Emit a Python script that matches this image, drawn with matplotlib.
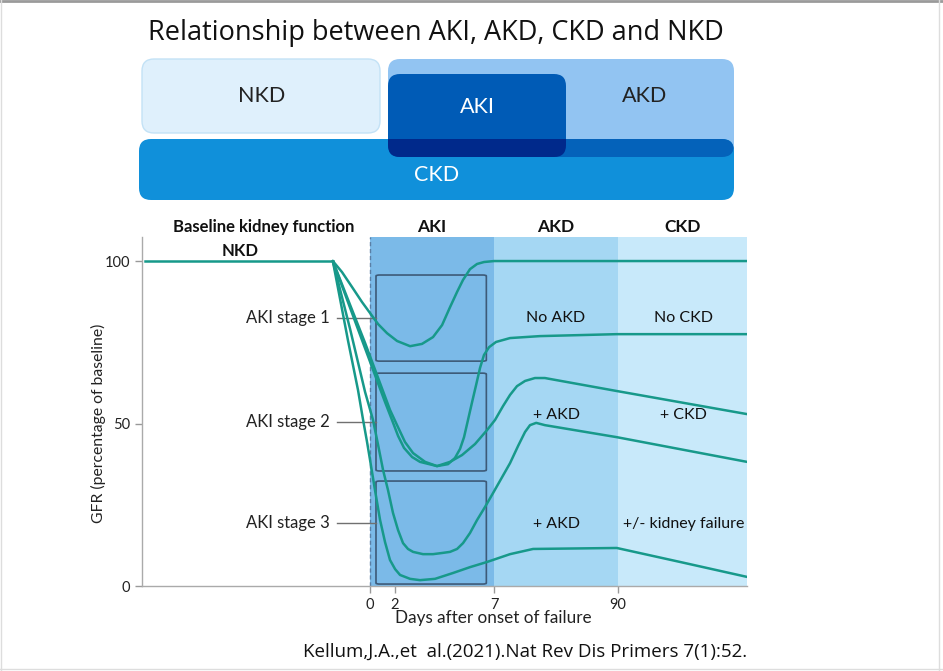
import matplotlib
matplotlib.use("Agg")
import matplotlib.pyplot as plt
from matplotlib.patches import FancyBboxPatch
import numpy as np

plt.rcParams['font.family'] = ['Lato', 'DejaVu Sans']

# timeline: 0 = onset, 10 = day 7, 20 = day 90 (axis is not linear in days)
tick_pos = [0, 2, 10, 20]
tick_lab = ["0", "2", "7", "90"]
phases = ["AKI", "AKD", "CKD"]
phase_span = [(0, 10), (10, 20), (20, 30.4)]
phase_col = ["#7bbae8", "#a5d7f3", "#c8e9fa"]

# GFR (% of baseline)
base_x = [-18.15, -3.0]
base_y = [100, 100]

s1_x = [-3.0, -2.26, -1.45, -0.65, 0.0, 0.65, 1.37, 2.18, 3.23, 4.19, 5.08, 5.81, 6.45,
        7.02, 7.5, 8.06, 8.63, 9.19, 10.0, 30.4]
s1_y = [100, 96.6, 92.0, 87.4, 84.0, 80.6, 77.8, 75.4, 73.8, 74.5, 76.6, 80.3, 85.8,
        90.5, 94.2, 97.5, 99.1, 99.7, 100, 100]

s2a_x = [-3.0, -0.65, 1.21, 1.77, 2.26, 2.74, 3.39, 4.03, 5.4, 6.29, 6.85, 7.26, 7.58, 7.9,
         8.23, 8.55, 8.87, 9.19, 9.6, 10.16, 11.29, 13.7, 19.9, 30.4]
s2a_y = [100, 75.7, 56.6, 51.1, 46.2, 42.5, 39.7, 38.2, 36.9, 37.5, 39.4, 42.2, 45.8, 51.1,
         56.6, 61.8, 67.1, 71.1, 73.5, 75.1, 76.3, 76.9, 77.5, 77.5]

s2b_x = [-3.0, -0.4, 1.61, 2.18, 2.82, 3.47, 4.44, 5.4, 6.45, 7.42, 8.47, 9.44, 10.08, 10.73,
         11.29, 11.85, 12.5, 13.3, 14.1, 19.9, 30.4]
s2b_y = [100, 74.8, 54.2, 49.5, 44.3, 40.9, 38.2, 36.9, 38.2, 40.3, 43.7, 48.0, 51.1, 55.4,
         58.8, 61.5, 63.1, 64.0, 64.0, 60.0, 52.9]

s3a_x = [-3.0, -1.61, -0.4, 0.24, 0.65, 1.05, 1.45, 1.85, 2.26, 2.66, 3.06, 3.47, 4.27, 5.08,
         5.89, 6.45, 7.02, 7.5, 8.06, 8.63, 9.27, 9.92, 10.65, 11.29, 11.94, 12.5, 12.9, 13.4,
         14.1, 19.9, 30.4]
s3a_y = [100, 79.1, 59.7, 51.1, 43.4, 35.7, 29.5, 22.5, 17.2, 13.2, 11.4, 10.5, 9.8, 9.8,
         10.2, 10.5, 11.4, 13.2, 16.3, 20.3, 24.3, 28.6, 33.5, 37.8, 43.1, 47.4, 49.5, 50.2,
         49.5, 45.8, 38.2]

s3b_x = [-3.0, -1.77, -0.97, -0.56, -0.24, 0.0, 0.4, 0.81, 1.21, 1.61, 2.02, 2.42, 3.23, 4.03,
         5.24, 6.69, 8.06, 9.44, 11.29, 13.15, 19.9, 25.0, 30.4]
s3b_y = [100, 75.4, 60.3, 51.1, 44.3, 38.8, 29.5, 20.3, 13.5, 8.0, 5.2, 3.4, 2.2, 1.8,
         2.2, 4.0, 5.8, 7.4, 9.8, 11.4, 11.7, 7.4, 2.8]

stage_names = ["AKI stage 1", "AKI stage 2", "AKI stage 3"]
stage_y = [82.5, 50.5, 19.4]
box_y = [(69.2, 95.7), (35.4, 65.5), (0.6, 32.3)]

outcome_txt = [("No AKD", 15, 82.5), ("No CKD", 25.3, 82.5),
               ("+ AKD", 15, 52.5), ("+ CKD", 25.3, 52.5),
               ("+ AKD", 15, 19), ("+/- kidney failure", 25.3, 19)]

teal = "#17998a"

fig = plt.figure(figsize=(9.43, 6.71), dpi=100)

# overlay in pixel coords for the slide parts
bg = fig.add_axes([0, 0, 1, 1])
bg.set_xlim(0, 943)
bg.set_ylim(671, 0)
bg.axis('off')

bg.plot([0, 943], [1, 1], color="#9a9a9a", lw=2)
bg.plot([1, 1], [0, 671], color="#dddddd", lw=1)
bg.plot([939, 939], [0, 671], color="#dddddd", lw=1)
bg.plot([0, 943], [669, 669], color="#dddddd", lw=1)

bg.text(436, 33, "Relationship between AKI, AKD, CKD and NKD", ha='center', va='center',
        fontsize=19.5, family="Open Sans", color="#111111")


def rbox(x0, y0, x1, y1, fc, ec="none", r=12, z=1):
    p = FancyBboxPatch((x0, y0), x1 - x0, y1 - y0,
                       boxstyle="round,pad=0,rounding_size=%d" % r,
                       fc=fc, ec=ec, lw=1, zorder=z)
    bg.add_patch(p)
    return p


rbox(142, 59, 380, 133, "#dff0fc", "#c3e2f6")
akd = rbox(388, 59, 734, 157, "#92c4f2")
ckd = rbox(139, 139, 734, 200, "#1090da", z=2)
ov1 = rbox(388, 59, 734, 157, "#0462ba", z=3)
ov1.set_clip_path(ckd)
rbox(388, 74, 566, 157, "#005bb6", z=4)
ov2 = rbox(388, 74, 566, 157, "#00298b", z=5)
ov2.set_clip_path(ckd)

bg.text(262, 96, "NKD", ha='center', va='center', fontsize=15.5, color="#222222", zorder=6)
bg.text(477, 107, "AKI", ha='center', va='center', fontsize=15.5, color="white", zorder=6)
bg.text(645, 96, "AKD", ha='center', va='center', fontsize=15.5, color="#222222", zorder=6)
bg.text(437, 175, "CKD", ha='center', va='center', fontsize=15.5, color="white", zorder=6)

bg.text(525, 652, "Kellum,J.A.,et  al.(2021).Nat Rev Dis Primers 7(1):52.", ha='center',
        va='center', fontsize=13.5, family="Open Sans", color="#111111")

# chart
ax = fig.add_axes([142 / 943, 85 / 671, 605 / 943, 349 / 671])
ax.patch.set_alpha(0)
ax.set_xlim(-18.39, 30.4)
ax.set_ylim(0, 107.4)

for (a, b), c in zip(phase_span, phase_col):
    ax.axvspan(a, b, color=c, lw=0, zorder=0)
ax.axvline(0, color="#5a7fa6", ls=(0, (3, 2)), lw=1, zorder=1)

for (y0, y1) in box_y:
    ax.add_patch(FancyBboxPatch((0.48, y0), 8.9, y1 - y0,
                                boxstyle="round,pad=0,rounding_size=0.3",
                                fc="none", ec="#3d5a78", lw=1.2, zorder=2))

for name, y in zip(stage_names, stage_y):
    ax.plot([-2.66, 0.48], [y, y], color="#707070", lw=1, zorder=2)
    ax.text(-3.23, y, name, ha='right', va='center', fontsize=12, color="#222222")

ax.plot(base_x, base_y, color=teal, lw=1.8, zorder=3)
for xs, ys in [(s1_x, s1_y), (s2a_x, s2a_y), (s2b_x, s2b_y), (s3a_x, s3a_y), (s3b_x, s3b_y)]:
    ax.plot(xs, ys, color=teal, lw=1.8, zorder=3, solid_joinstyle='round', solid_capstyle='round')

ax.text(-10.5, 103, "NKD", ha='center', va='center', fontsize=12, fontweight='bold', color="#111111")
ax.text(-8.6, 110.5, "Baseline kidney function", ha='center', va='center', fontsize=12,
        fontweight='bold', color="#111111", clip_on=False)
for name, (a, b) in zip(phases, phase_span):
    ax.text((a + b) / 2, 110.5, name, ha='center', va='center', fontsize=12.5,
            fontweight='bold', color="#111111", clip_on=False)

for t, x, y in outcome_txt:
    ax.text(x, y, t, ha='center', va='center', fontsize=11.5, color="#111111", zorder=4)

ax.set_yticks([0, 50, 100])
ax.set_xticks(tick_pos)
ax.set_xticklabels(tick_lab)
ax.tick_params(axis='both', colors="#999999", labelcolor="#222222", labelsize=10.5, length=5, width=1)
for s in ['top', 'right']:
    ax.spines[s].set_visible(False)
for s in ['left', 'bottom']:
    ax.spines[s].set_color("#aaaaaa")
    ax.spines[s].set_linewidth(1)

ax.set_xlabel("Days after onset of failure", fontsize=12.3, color="#222222")
ax.xaxis.set_label_coords(0.58, -0.07)
ax.set_ylabel("GFR (percentage of baseline)", fontsize=11.3, color="#222222")
ax.yaxis.set_label_coords(-0.06, 0.467)

fig.savefig("out.png", dpi=100)
